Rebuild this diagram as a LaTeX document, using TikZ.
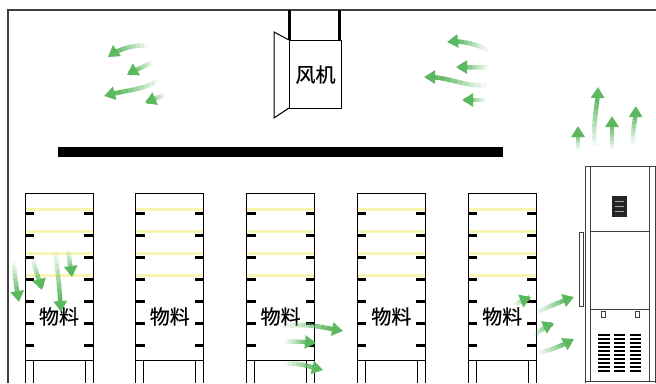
\documentclass[tikz,border=0pt]{standalone}
\usepackage{fontspec}
\newfontfamily\cjk{Noto Sans CJK SC}[FakeBold=0.6]
\usetikzlibrary{arrows.meta}

\definecolor{flowgreen}{RGB}{92,184,94}
\definecolor{shelfyellow}{RGB}{249,245,178}

% airflow arrow: tail, two controls, tip; the tail fades out
\newcommand{\airflow}[4]{%
  \path #1 .. controls #2 and #3 .. #4
    coordinate[pos=0] (af0) coordinate[pos=0.1] (af1) coordinate[pos=0.2] (af2)
    coordinate[pos=0.3] (af3) coordinate[pos=0.4] (af4) coordinate[pos=0.5] (af5)
    coordinate[pos=0.6] (af6) coordinate[pos=0.7] (af7) coordinate[pos=0.8] (af8)
    coordinate[pos=0.9] (af9) coordinate[pos=1] (af10);
  \foreach \sa/\sb/\sop in {0/1/0.08,1/2/0.2,2/3/0.32,3/4/0.45,4/5/0.58,
                            5/6/0.72,6/7/0.85,7/8/0.95,8/9/1}
    \draw[flow, opacity=\sop] (af\sa) -- (af\sb);
  \draw[flow, -{Triangle[width=13pt,length=11pt]}] (af9) -- (af10);
}

\begin{document}
\begin{tikzpicture}[x=1pt, y=-1pt,
  wall/.style={line width=1.2pt, black!75},
  frame/.style={line width=1pt},
  thin/.style={line width=0.7pt, black!75},
  tick/.style={line width=3pt},
  shelf/.style={line width=3pt, shelfyellow},
  flow/.style={line width=4.5pt, flowgreen},
  cjktext/.style={font=\cjk\fontsize{20}{20}\selectfont, inner sep=0pt}
]
\useasboundingbox (0,0) rectangle (656,383);

\draw[wall] (8,383) -- (8,10) -- (656,10);

% fan in its duct
\draw[line width=3pt] (289,10) -- (289,40);
\draw[line width=3pt] (339.5,10) -- (339.5,40);
\draw[frame, fill=white] (289,40) -- (274,32) -- (274,118) -- (289,108);
\node[draw, frame, minimum width=52pt, minimum height=68pt, anchor=north west,
      cjktext] (fan) at (289,40) {风机};

\fill (58,147) rectangle (503,157);

% shelving racks
\foreach \i in {0,...,4} {
  \pgfmathsetmacro\rl{25+110.8*\i}
  \pgfmathsetmacro\rr{\rl+68}
  \foreach \y in {209,231,253,275}
    \draw[shelf] (\rl,\y) -- (\rr,\y);
  \draw[frame] (\rl,383) -- (\rl,193) -- (\rr,193) -- (\rr,383);
  \draw[frame] (\rl,360) -- (\rr,360);
  \draw[frame] (\rl+8,360) -- (\rl+8,383) (\rr-8,360) -- (\rr-8,383);
  \foreach \y in {213,235,257,279,301,323,345}
    \draw[tick] (\rl,\y) -- ++(9,0) (\rr,\y) -- ++(-9,0);
  \node[cjktext] (mat\i) at (\rl+34,316.5) {物料};
}

% dehumidifier
\draw[thin] (585,383) -- (585,166) -- (655,166) -- (655,383);
\draw[thin] (590.5,166) -- (590.5,381) (649,166) -- (649,381);
\draw[thin] (590.5,231) -- (649,231) (590.5,309) -- (649,309);
\draw[thin] (585,381) -- (655,381);
\draw[thin, line width=1pt] (579.5,232) rectangle (583.5,306);
\fill[black!85] (612,196) rectangle (627,217);
\draw[black!35, line width=0.8pt] (615,201) -- (624,201) (615,206) -- (624,206)
  (615,211) -- (624,211);
\draw[thin] (601,311) rectangle (605,317) (635,311) rectangle (639,317);
\foreach \y in {335,339,...,371}
  \draw[line width=2pt] (598,\y) -- (610,\y) (614,\y) -- (625,\y) (630,\y) -- (641,\y);

% air flow
\airflow{(148,46)}{(135,44)}{(118,49)}{(108,57)}
\airflow{(153,62)}{(145,66)}{(135,70)}{(127,75)}
\airflow{(158,80)}{(145,90)}{(125,90)}{(104,96)}
\airflow{(165,95)}{(158,97)}{(152,100)}{(145,103)}

\airflow{(488,50)}{(475,44)}{(462,40)}{(447,42)}
\airflow{(488,67)}{(478,68)}{(466,67)}{(456,67)}
\airflow{(487,85)}{(465,88)}{(450,76)}{(424,77)}
\airflow{(486,100)}{(478,100)}{(470,100)}{(462,100)}

\airflow{(578,150)}{(578,143)}{(578,135)}{(578,126)}
\airflow{(595,146)}{(592,125)}{(598,105)}{(598,87)}
\airflow{(612,150)}{(612,140)}{(612,128)}{(612,116)}
\airflow{(633,145)}{(632,130)}{(636,118)}{(636,106)}

\airflow{(14,262)}{(14,275)}{(17,290)}{(19,302)}
\airflow{(33,258)}{(35,270)}{(40,282)}{(42,290)}
\airflow{(55,252)}{(58,270)}{(60,295)}{(61,312)}
\airflow{(68,250)}{(69,260)}{(71,268)}{(72,277)}

\airflow{(283,327)}{(305,322)}{(325,328)}{(343,331)}
\airflow{(284,342)}{(295,341)}{(305,342)}{(316,343)}
\airflow{(284,364)}{(298,362)}{(310,367)}{(323,370)}

\airflow{(536,313)}{(550,306)}{(562,301)}{(574,297)}
\airflow{(515,305)}{(520,301)}{(526,299)}{(531,297)}
\airflow{(534,336)}{(540,330)}{(547,326)}{(554,323)}
\airflow{(538,353)}{(552,350)}{(563,345)}{(574,339)}
\end{tikzpicture}
\end{document}
